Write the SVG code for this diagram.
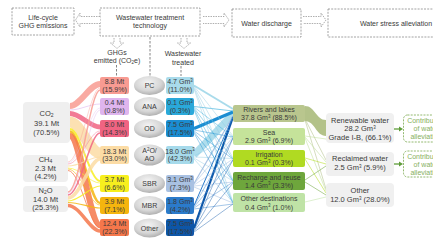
<svg xmlns="http://www.w3.org/2000/svg" width="433" height="244" viewBox="0 0 433 244">
<defs>
<style>
text{font-family:"Liberation Sans",Arial,sans-serif;font-size:7px;fill:#3a3a3a;text-anchor:middle}
.big{font-size:7.5px}
.hdr{fill:#fff;stroke:#8c8c8c;stroke-width:0.8;stroke-dasharray:2 1.2}
.dash{fill:none;stroke:#666;stroke-width:0.8;stroke-dasharray:2.5 1.5}
.har{fill:#fff;stroke:#8c8c8c;stroke-width:0.7;stroke-dasharray:1.5 1}
.gas{fill:#efefef}
.rb{fill:#f0f0f0}
.ell{fill:url(#eg)}
.gb{fill:#fff;stroke:#7aa84e;stroke-width:0.8;stroke-dasharray:2 1.2}
.gt{fill:#86b05e}
.lf{fill:none;opacity:0.85}
.rf{fill:none;stroke-width:0.5;opacity:0.85}
.df{fill:none;stroke-width:0.6;opacity:0.9}
</style>
<radialGradient id="eg" cx="0.45" cy="0.35" r="0.7">
<stop offset="0" stop-color="#f4f4f4"/>
<stop offset="0.6" stop-color="#d6d6d6"/>
<stop offset="1" stop-color="#a8a8a8"/>
</radialGradient>
</defs>

<g id="header">
<g id="lifecycle"><rect class="hdr" x="12" y="8" width="62" height="27"/><text x="43" y="20">Life-cycle</text><text x="43" y="28">GHG emissions</text></g>
<g id="tech"><rect class="hdr" x="100" y="8" width="100" height="28"/><text x="150" y="20">Wastewater treatment</text><text x="150" y="28">technology</text></g>
<g id="discharge"><rect class="hdr" x="232" y="9" width="69" height="28"/><text x="266.5" y="25.5">Water discharge</text></g>
<g id="stress"><rect class="hdr" x="328" y="9" width="120" height="28"/><text x="396" y="25.5">Water stress alleviation</text></g>
</g>

<g id="connectors">
<path class="har" d="M100,16.5 H80 V13 L75.5,20 L80,27 V23.5 H100"/>
<path class="har" d="M203,16.5 H224 V13 L229,20 L224,27 V23.5 H203"/>
<path class="har" d="M303,16.5 H321 V13 L326,20 L321,27 V23.5 H303"/>
<path class="har" d="M114,38 V43 H110.5 L117,48.5 L123.5,43 H120 V38"/>
<path class="har" d="M181,38 V43 H177.5 L184,48.5 L190.5,43 H187 V38"/>
<line class="dash" x1="150" y1="37" x2="150" y2="76"/>
<line class="dash" x1="116.5" y1="65" x2="116.5" y2="76"/>
<line class="dash" x1="181" y1="66" x2="181" y2="76"/>

<g id="left-flows">
<path class="lf" stroke="#f89b92" stroke-width="6" d="M70,106 C80,106 90,84 100,84"/>
<path class="lf" stroke="#dfb5ee" stroke-width="0.7" d="M70,110 C80,110 90,104 100,104"/>
<path class="lf" stroke="#f06482" stroke-width="5" d="M70,113.5 C80,113.5 90,127 100,127"/>
<path class="lf" stroke="#fcdca5" stroke-width="11" d="M70,122 C80,122 90,153 100,153"/>
<path class="lf" stroke="#f7ef1e" stroke-width="2" d="M70,129 C80,129 90,181 100,181"/>
<path class="lf" stroke="#f5b50e" stroke-width="2.5" d="M70,131.5 C80,131.5 90,203 100,203"/>
<path class="lf" stroke="#f5774b" stroke-width="6" d="M70,136 C80,136 90,225 100,225"/>
<path class="lf" stroke="#f89b92" stroke-width="0.5" d="M68,162 C80,162 90,88 100,88"/>
<path class="lf" stroke="#dfb5ee" stroke-width="0.4" d="M68,163 C80,163 90,108 100,108"/>
<path class="lf" stroke="#f06482" stroke-width="0.5" d="M68,164 C80,164 90,131 100,131"/>
<path class="lf" stroke="#fcdca5" stroke-width="1.2" d="M68,166 C80,166 90,157 100,157"/>
<path class="lf" stroke="#f7ef1e" stroke-width="0.7" d="M68,168 C80,168 90,183 100,183"/>
<path class="lf" stroke="#f5b50e" stroke-width="0.7" d="M68,169 C80,169 90,205 100,205"/>
<path class="lf" stroke="#f5774b" stroke-width="0.9" d="M68,170.5 C80,170.5 90,228 100,228"/>
<path class="lf" stroke="#f89b92" stroke-width="1.5" d="M68,192 C80,192 90,90 100,90"/>
<path class="lf" stroke="#dfb5ee" stroke-width="0.5" d="M68,193.5 C80,193.5 90,110 100,110"/>
<path class="lf" stroke="#f06482" stroke-width="1.5" d="M68,195 C80,195 90,133 100,133"/>
<path class="lf" stroke="#fcdca5" stroke-width="3.5" d="M68,198 C80,198 90,159 100,159"/>
<path class="lf" stroke="#f7ef1e" stroke-width="1.2" d="M68,201 C80,201 90,186 100,186"/>
<path class="lf" stroke="#f5b50e" stroke-width="1.2" d="M68,202.5 C80,202.5 90,208 100,208"/>
<path class="lf" stroke="#f5774b" stroke-width="3.5" d="M68,205.5 C80,205.5 90,231 100,231"/>
</g>

<g id="right-flows">
<line stroke="#a6daeb" stroke-width="7" opacity="0.9" x1="194" y1="155" x2="233" y2="114"/>
<line stroke="#1b8dd2" stroke-width="3" x1="194" y1="128.5" x2="233" y2="112"/>
<line stroke="#0d56a8" stroke-width="2.2" x1="194" y1="228" x2="233" y2="117"/>
<line stroke="#a9dbeb" stroke-width="2" x1="194" y1="85.5" x2="233" y2="109"/>
<line stroke="#a9c1e2" stroke-width="1.2" x1="194" y1="183.5" x2="233" y2="116"/>
<line stroke="#2b7bcb" stroke-width="1" x1="194" y1="205.5" x2="233" y2="116.5"/>
<line stroke="#2aa9da" stroke-width="0.6" x1="194" y1="106.5" x2="233" y2="111"/>
<g class="rf" stroke="#8fcbe3">
<line x1="194" y1="86" x2="233" y2="136"/><line x1="194" y1="87" x2="233" y2="158"/><line x1="194" y1="88" x2="233" y2="180"/><line x1="194" y1="89" x2="233" y2="202"/>
</g>
<g class="rf" stroke="#2aa9da">
<line x1="194" y1="107" x2="233" y2="137"/><line x1="194" y1="108" x2="233" y2="159"/><line x1="194" y1="109" x2="233" y2="181"/><line x1="194" y1="110" x2="233" y2="203"/>
</g>
<g class="rf" stroke="#1b8dd2">
<line x1="194" y1="130" x2="233" y2="137"/><line x1="194" y1="131" x2="233" y2="159"/><line x1="194" y1="132" x2="233" y2="181"/><line x1="194" y1="133" x2="233" y2="203"/>
</g>
<g class="rf" stroke="#8fcbe3">
<line x1="194" y1="156" x2="233" y2="136.5"/><line x1="194" y1="157" x2="233" y2="158.5"/><line x1="194" y1="158" x2="233" y2="181"/><line x1="194" y1="159" x2="233" y2="202.5"/>
</g>
<g class="rf" stroke="#8fb0dc">
<line x1="194" y1="184" x2="233" y2="137"/><line x1="194" y1="185" x2="233" y2="159"/><line x1="194" y1="186" x2="233" y2="182"/><line x1="194" y1="187" x2="233" y2="203"/>
</g>
<g class="rf" stroke="#2b7bcb">
<line x1="194" y1="206" x2="233" y2="138"/><line x1="194" y1="207" x2="233" y2="160"/><line x1="194" y1="208" x2="233" y2="182"/><line x1="194" y1="209" x2="233" y2="204"/>
</g>
<g class="rf" stroke="#0d56a8">
<line x1="194" y1="229" x2="233" y2="138"/><line x1="194" y1="230" x2="233" y2="160"/><line x1="194" y1="231" x2="233" y2="183"/><line x1="194" y1="232" x2="233" y2="204"/>
</g>
</g>

<g id="dest-flows">
<path fill="#abbb7c" opacity="0.9" d="M305,106 C315,106 316,120 326,120 L326,136 C316,136 315,121 305,121 Z"/>
<line class="df" stroke="#b0c088" x1="305" y1="119" x2="326" y2="160"/>
<line class="df" stroke="#b0c088" x1="305" y1="120" x2="326" y2="189"/>
<line class="df" stroke="#bfe09a" x1="305" y1="136" x2="326" y2="139"/>
<line class="df" stroke="#bfe09a" x1="305" y1="137" x2="326" y2="162"/>
<line class="df" stroke="#bfe09a" x1="305" y1="138" x2="326" y2="191"/>
<line class="df" stroke="#b3dc1e" x1="305" y1="158" x2="326" y2="164"/>
<line class="df" stroke="#b3dc1e" x1="305" y1="159" x2="326" y2="193"/>
<line class="df" stroke="#6ea63c" x1="305" y1="180" x2="326" y2="166"/>
<line class="df" stroke="#6ea63c" x1="305" y1="182" x2="326" y2="195"/>
<line class="df" stroke="#bfe3a6" stroke-width="0.9" x1="305" y1="202" x2="326" y2="197"/>
</g>

<g id="green-arrows" fill="#5f9c3a" stroke="#5f9c3a">
<line x1="394" y1="129" x2="400" y2="129" stroke-width="1.3"/><path d="M399,126.5 L403,129 L399,131.5 Z" stroke="none"/>
<line x1="394" y1="164" x2="400" y2="164" stroke-width="1.3"/><path d="M399,161.5 L403,164 L399,166.5 Z" stroke="none"/>
</g>
</g>

<g id="gases">
<g id="co2"><rect class="gas" x="23" y="102" width="47" height="41" rx="4"/><text class="big" x="46.5" y="116">CO<tspan font-size="5" dy="1.2">2</tspan></text><text class="big" x="46.5" y="125.5">39.1 Mt</text><text class="big" x="46.5" y="134.5">(70.5%)</text></g>
<g id="ch4"><rect class="gas" x="23" y="155" width="45" height="27" rx="4"/><text class="big" x="45.5" y="161.5">CH<tspan font-size="5" dy="1">4</tspan></text><text class="big" x="45.5" y="170.5">2.3 Mt</text><text class="big" x="45.5" y="178.5">(4.2%)</text></g>
<g id="n2o"><rect class="gas" x="23" y="186" width="45" height="26" rx="4"/><text class="big" x="45.5" y="193">N<tspan font-size="5" dy="1">2</tspan><tspan dy="-1">O</tspan></text><text class="big" x="45.5" y="201.5">14.0 Mt</text><text class="big" x="45.5" y="209.5">(25.3%)</text></g>
</g>

<g id="ghg-label"><text x="117" y="54.5">GHGs</text><text x="117" y="63">emitted (CO<tspan font-size="4.5" dy="1.2">2</tspan><tspan dy="-1.2">e)</tspan></text></g>
<g id="ww-label"><text x="183" y="56">Wastewater</text><text x="183" y="64.5">treated</text></g>

<g id="emissions">
<g id="e-pc"><rect x="100" y="77" width="29" height="17" rx="2" fill="#f89b92"/><text x="114.5" y="84">8.8 Mt</text><text x="114.5" y="91.5">(15.9%)</text></g>
<g id="e-ana"><rect x="100" y="98" width="29" height="17" rx="2" fill="#dfb5ee"/><text x="114.5" y="105">0.4 Mt</text><text x="114.5" y="112.5">(0.8%)</text></g>
<g id="e-od"><rect x="100" y="120" width="29" height="17" rx="2" fill="#f06482"/><text x="114.5" y="127">8.0 Mt</text><text x="114.5" y="134.5">(14.3%)</text></g>
<g id="e-a2o"><rect x="100" y="146" width="29" height="18" rx="2" fill="#fcdca5"/><text x="114.5" y="153.5">18.3 Mt</text><text x="114.5" y="161">(33.0%)</text></g>
<g id="e-sbr"><rect x="100" y="175" width="29" height="17" rx="2" fill="#f7ef1e"/><text x="114.5" y="182">3.7 Mt</text><text x="114.5" y="189.5">(6.6%)</text></g>
<g id="e-mbr"><rect x="100" y="197" width="29" height="17" rx="2" fill="#f5b50e"/><text x="114.5" y="204">3.9 Mt</text><text x="114.5" y="211.5">(7.1%)</text></g>
<g id="e-other"><rect x="100" y="219" width="29" height="17" rx="2" fill="#f5774b"/><text x="114.5" y="226">12.4 Mt</text><text x="114.5" y="233.5">(22.3%)</text></g>
</g>

<g id="techs">
<g id="t-pc"><ellipse class="ell" cx="149.5" cy="85.5" rx="15.5" ry="9.5"/><text x="149.5" y="88">PC</text></g>
<g id="t-ana"><ellipse class="ell" cx="149.5" cy="106.5" rx="15.5" ry="9.5"/><text x="149.5" y="109">ANA</text></g>
<g id="t-od"><ellipse class="ell" cx="149.5" cy="128.5" rx="15.5" ry="9.5"/><text x="149.5" y="131">OD</text></g>
<g id="t-a2o"><ellipse class="ell" cx="149.5" cy="155" rx="15.5" ry="10.5"/><text x="149.5" y="153">A<tspan font-size="4.5" dy="-2.5">2</tspan><tspan dy="2.5">O/</tspan></text><text x="149.5" y="161">AO</text></g>
<g id="t-sbr"><ellipse class="ell" cx="149.5" cy="183.5" rx="15.5" ry="9.5"/><text x="149.5" y="186">SBR</text></g>
<g id="t-mbr"><ellipse class="ell" cx="149.5" cy="205.5" rx="15.5" ry="9.5"/><text x="149.5" y="208">MBR</text></g>
<g id="t-other"><ellipse class="ell" cx="149.5" cy="228" rx="15.5" ry="9.5"/><text x="149.5" y="230.5">Other</text></g>
</g>

<g id="water">
<g id="w-pc"><rect x="166" y="77" width="28" height="17" rx="2" fill="#a9dbeb"/><text x="180" y="84">4.7 Gm<tspan font-size="4.5" dy="-2.5">3</tspan></text><text x="180" y="91.5">(11.0%)</text></g>
<g id="w-ana"><rect x="166" y="98" width="28" height="17" rx="2" fill="#2aa9da"/><text x="180" y="105">0.1 Gm<tspan font-size="4.5" dy="-2.5">3</tspan></text><text x="180" y="112.5">(0.3%)</text></g>
<g id="w-od"><rect x="166" y="120" width="28" height="17" rx="2" fill="#1b8dd2"/><text x="180" y="127">7.5 Gm<tspan font-size="4.5" dy="-2.5">3</tspan></text><text x="180" y="134.5">(17.5%)</text></g>
<g id="w-a2o"><rect x="166" y="146" width="28" height="18" rx="2" fill="#a6daeb"/><text x="180" y="153.5">18.0 Gm<tspan font-size="4.5" dy="-2.5">3</tspan></text><text x="180" y="161">(42.3%)</text></g>
<g id="w-sbr"><rect x="166" y="175" width="28" height="17" rx="2" fill="#a9c1e2"/><text x="180" y="182">3.1 Gm<tspan font-size="4.5" dy="-2.5">3</tspan></text><text x="180" y="189.5">(7.3%)</text></g>
<g id="w-mbr"><rect x="166" y="197" width="28" height="17" rx="2" fill="#2b7bcb"/><text x="180" y="204" fill="#1a2a48">1.8 Gm<tspan font-size="4.5" dy="-2.5">3</tspan></text><text x="180" y="211.5" fill="#1a2a48">(4.2%)</text></g>
<g id="w-other"><rect x="166" y="219" width="28" height="17" rx="2" fill="#0d56a8"/><text x="180" y="226" fill="#1a2a48">7.5 Gm<tspan font-size="4.5" dy="-2.5">3</tspan></text><text x="180" y="233.5" fill="#1a2a48">(17.5%)</text></g>
</g>

<g id="destinations">
<g id="d-rivers"><rect x="233" y="105" width="72" height="17" rx="2" fill="#b9c68e"/><text x="269" y="112">Rivers and lakes</text><text x="269" y="120">37.8 Gm<tspan font-size="4.5" dy="-2.5">3</tspan><tspan dy="2.5"> (88.5%)</tspan></text></g>
<g id="d-sea"><rect x="233" y="128" width="72" height="17" rx="2" fill="#c5e39a"/><text x="269" y="135">Sea</text><text x="269" y="143">2.9 Gm<tspan font-size="4.5" dy="-2.5">3</tspan><tspan dy="2.5"> (6.9%)</tspan></text></g>
<g id="d-irr"><rect x="233" y="150" width="72" height="17" rx="2" fill="#b0da22"/><text x="269" y="157">Irrigation</text><text x="269" y="165">0.1 Gm<tspan font-size="4.5" dy="-2.5">3</tspan><tspan dy="2.5"> (0.3%)</tspan></text></g>
<g id="d-recharge"><rect x="233" y="172" width="72" height="18" rx="2" fill="#6ea63c"/><text x="269" y="179.5" fill="#1f3310">Recharge and reuse</text><text x="269" y="187.5" fill="#1f3310">1.4 Gm<tspan font-size="4.5" dy="-2.5">3</tspan><tspan dy="2.5"> (3.3%)</tspan></text></g>
<g id="d-other"><rect x="233" y="193" width="72" height="19" rx="2" fill="#bfe3a6"/><text x="269" y="201">Other destinations</text><text x="269" y="209.5">0.4 Gm<tspan font-size="4.5" dy="-2.5">3</tspan><tspan dy="2.5"> (1.0%)</tspan></text></g>
</g>

<g id="results">
<g id="r-renew"><rect class="rb" x="326" y="113" width="68" height="30" rx="4"/><text class="big" x="360" y="122.5">Renewable water</text><text class="big" x="360" y="131">28.2 Gm<tspan font-size="4.5" dy="-2.5">3</tspan></text><text class="big" x="360" y="139.5">Grade I-B, (66.1%)</text></g>
<g id="r-reclaim"><rect class="rb" x="326" y="152" width="68" height="24" rx="4"/><text class="big" x="360" y="161">Reclaimed water</text><text class="big" x="360" y="170">2.5 Gm<tspan font-size="4.5" dy="-2.5">3</tspan><tspan dy="2.5"> (5.9%)</tspan></text></g>
<g id="r-other"><rect class="rb" x="326" y="183" width="68" height="24" rx="4"/><text class="big" x="360" y="192.5">Other</text><text class="big" x="360" y="202">12.0 Gm<tspan font-size="4.5" dy="-2.5">3</tspan><tspan dy="2.5"> (28.0%)</tspan></text></g>
</g>

<g id="contrib">
<g id="c1"><rect class="gb" x="403.5" y="115" width="45" height="27" rx="4"/><text class="gt" x="426" y="123">Contribution</text><text class="gt" x="426" y="131">of water</text><text class="gt" x="426" y="139">alleviation</text></g>
<g id="c2"><rect class="gb" x="403.5" y="151" width="45" height="26" rx="4"/><text class="gt" x="426" y="159">Contribution</text><text class="gt" x="426" y="167">of water</text><text class="gt" x="426" y="175">alleviation</text></g>
</g>
</svg>
